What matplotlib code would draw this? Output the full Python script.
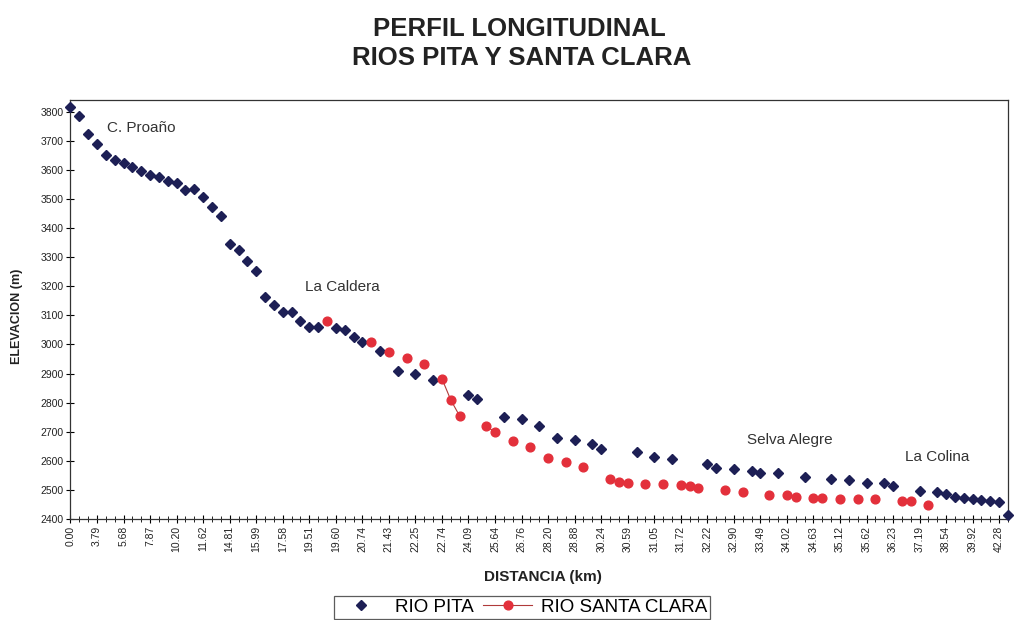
import numpy as np
import matplotlib.pyplot as plt

plt.rcParams['font.family'] = ['Liberation Sans', 'DejaVu Sans']

# distance labels shown on every third row of the profile table (km)
dist_labels = ['0.00', '3.79', '5.68', '7.87', '10.20', '11.62', '14.81', '15.99',
               '17.58', '19.51', '19.60', '20.74', '21.43', '22.25', '22.74', '24.09',
               '25.64', '26.76', '28.20', '28.88', '30.24', '30.59', '31.05', '31.72',
               '32.22', '32.90', '33.49', '34.02', '34.63', '35.12', '35.62', '36.23',
               '37.19', '38.54', '39.92', '42.28']

# elevation (m) per row; None where the river has no reading at that row
pita = [3815, 3784, 3724, 3689, 3652, 3635, 3624, 3609, 3595, 3583,
        3577, 3560, 3555, 3532, 3534, 3505, 3474, 3440, 3345, 3323,
        3288, 3251, 3163, 3136, 3110, 3113, 3082, 3061, 3059, None,
        3058, 3048, 3027, 3010, None, 2979, None, 2908, None, 2898,
        None, 2878, None, None, None, 2827, 2812, None, None, 2750,
        None, 2743, None, 2720, None, 2678, None, 2670, None, 2657,
        2640, None, None, None, 2629, None, 2614, None, 2606, None,
        None, None, 2588, 2577, None, 2572, None, 2566, 2559, None,
        2557, None, None, 2546, None, None, 2537, None, 2534, None,
        2525, None, 2523, 2515, None, None, 2497, None, 2494, 2486,
        2477, 2473, 2469, 2465, 2462, 2460, 2414]

santa_clara = [None, None, None, None, None, None, None, None, None, None,
               None, None, None, None, None, None, None, None, None, None,
               None, None, None, None, None, None, None, None, None, 3079,
               None, None, None, None, 3008, None, 2973, None, 2953, None,
               2933, None, 2882, 2809, 2754, None, None, 2720, 2698, None,
               2668, None, 2649, None, 2609, None, 2595, None, 2580, None,
               None, 2538, 2526, 2523, None, 2520, None, 2520, None, 2517,
               2514, 2508, None, None, 2500, None, 2494, None, None, 2483,
               None, 2483, 2477, None, 2471, 2471, None, 2468, None, 2468,
               None, 2468, None, None, 2461, 2461, None, 2448, None, None,
               None, None, None, None, None, None, None]

places = ['C. Proaño', 'La Caldera', 'Selva Alegre', 'La Colina']
place_pos = [(4.1, 3745), (26.5, 3198), (76.5, 2672), (94.3, 2613)]

navy = '#1d1f55'
red = '#e3303b'
text_col = '#222222'

pita = np.array(pita, dtype=float)
santa_clara = np.array(santa_clara, dtype=float)
rows = np.arange(len(pita))

fig = plt.figure(figsize=(10.14, 6.2), dpi=100)
ax = fig.add_axes([0.0695, 0.1629, 0.9246, 0.6758])

ax.plot(rows, pita, ls='none', marker='D', ms=5.0, color=navy,
        clip_on=False, zorder=3, label='RIO PITA')
ax.plot(rows, santa_clara, '-', color='#b03a3a', lw=0.8, marker='o', ms=6.3,
        mfc=red, mec=red, clip_on=False, zorder=4, label='RIO SANTA CLARA')

ax.set_xlim(0, len(rows) - 1)
ax.set_ylim(2400, 3840)
ax.set_yticks(np.arange(2400, 3801, 100))
ax.set_xticks(rows[::3])
ax.set_xticklabels(dist_labels, rotation=90, fontsize=7.5, color=text_col)
ax.set_xticks(rows, minor=True)
ax.tick_params(axis='both', which='major', direction='inout', length=6,
               width=0.8, labelsize=7.5, labelcolor=text_col, pad=2)
ax.tick_params(axis='x', which='minor', direction='inout', length=5, width=0.6)
for spine in ax.spines.values():
    spine.set_linewidth(0.9)
    spine.set_color('#333333')

for name, (px, py) in zip(places, place_pos):
    ax.text(px, py, name, fontsize=11, color='#333333', va='center', ha='left')

fig.text(0.512, 0.953, 'PERFIL LONGITUDINAL', ha='center', va='center',
         fontsize=18.5, fontweight='bold', color=text_col)
fig.text(0.514, 0.906, 'RIOS PITA Y SANTA CLARA', ha='center', va='center',
         fontsize=18.5, fontweight='bold', color=text_col)
fig.text(0.017, 0.49, 'ELEVACION (m)', rotation=90, ha='center', va='center',
         fontsize=9, fontweight='bold', color=text_col)
fig.text(0.535, 0.069, 'DISTANCIA (km)', ha='center', va='center',
         fontsize=11, fontweight='bold', color=text_col)

# legend box sits low so its lower edge runs past the figure border
leg = fig.legend(loc='upper center', bbox_to_anchor=(0.515, 1 - 596 / 620), ncol=2,
                 fontsize=13.5, frameon=True, fancybox=False, edgecolor='#333333',
                 handlelength=2.6, handletextpad=0.5, columnspacing=0.5,
                 borderpad=0.15, borderaxespad=0)
leg.get_frame().set_linewidth(0.9)

fig.savefig('out.png', dpi=100)
